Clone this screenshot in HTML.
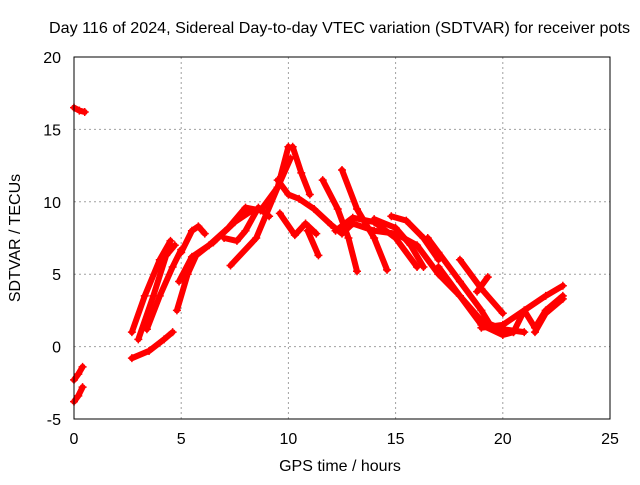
<!DOCTYPE html>
<html><head><meta charset="utf-8"><style>
body{margin:0;background:#fff}
svg text{font-family:"Liberation Sans",sans-serif;font-size:16px;fill:#000}
</style></head><body>
<svg id="chart" width="640" height="480" xmlns="http://www.w3.org/2000/svg">
<rect width="640" height="480" fill="#fff"/>
<text x="49" y="33" textLength="581" lengthAdjust="spacingAndGlyphs">Day 116 of 2024, Sidereal Day-to-day VTEC variation (SDTVAR) for receiver pots</text>
<g id="grid"></g>
<g id="ticks"></g>
<g id="series"></g>
<rect x="74" y="57" width="536" height="362" fill="none" stroke="#000" stroke-width="1"/>
<text x="340" y="471" text-anchor="middle">GPS time / hours</text>
<text transform="translate(20,238) rotate(-90)" text-anchor="middle">SDTVAR / TECUs</text>
</svg>
<script>
const xTicks=[0,5,10,15,20,25];
const yTicks=[-5,0,5,10,15,20];
const tracks=[
[[0,16.5],[0.25,16.3],[0.5,16.2]],
[[0,-2.3],[0.2,-1.9],[0.4,-1.4]],
[[0,-3.8],[0.2,-3.4],[0.4,-2.8]],
[[2.7,1.0],[3.3,3.5],[4.0,6.0],[4.5,7.3]],
[[3.0,0.5],[3.7,3.5],[4.3,6.3],[4.7,7.0]],
[[2.7,-0.8],[3.5,-0.3],[4.2,0.5],[4.6,1.0]],
[[3.4,1.2],[4.0,3.5],[4.6,5.5],[5.0,6.7]],
[[4.8,2.5],[5.3,5.0],[5.7,6.3],[6.3,7.0],[7.2,8.2],[8.0,9.6],[8.7,9.4],[9.5,11.0],[10.0,13.8]],
[[4.9,4.5],[5.5,6.2],[6.5,7.2],[7.5,8.6],[8.3,9.4]],
[[5.0,6.5],[5.5,8.0],[5.8,8.3],[6.1,7.8]],
[[7.3,5.6],[8.5,7.5],[9.5,11.0],[10.1,13.0]],
[[7.0,7.5],[7.6,7.3],[8.0,8.0],[8.6,9.6],[9.1,9.0]],
[[9.5,11.5],[10.0,10.5],[10.5,10.2],[11.2,9.5],[12.0,8.4],[12.5,7.8],[13.0,8.5],[14.0,8.0],[15.0,7.8],[16.0,7.0],[17.0,5.0],[18.0,3.5],[19.0,1.8],[20.0,1.2],[21.0,1.0]],
[[10.2,13.8],[10.6,12.0],[11.0,10.5]],
[[9.6,9.2],[10.3,7.7],[10.8,8.5],[11.3,7.8]],
[[10.9,8.0],[11.4,6.3]],
[[11.6,11.5],[12.3,9.5],[12.8,7.5],[13.2,5.2]],
[[12.5,12.2],[13.2,9.5],[14.0,7.5],[14.6,5.3]],
[[12.2,8.0],[13.0,8.9],[14.0,8.6],[15.0,7.5],[16.0,5.5]],
[[14.0,8.8],[15.0,8.2],[15.7,7.0],[16.3,5.5]],
[[14.8,9.0],[15.5,8.7],[16.3,7.5],[17.0,6.0]],
[[16.5,7.5],[17.0,6.5],[18.0,4.5],[19.0,2.5],[19.5,1.3]],
[[17.0,5.5],[18.0,3.5],[19.0,1.5],[20.0,0.8],[20.5,1.0]],
[[18.0,6.0],[19.0,4.0],[20.0,2.3]],
[[18.8,3.8],[19.3,4.8]],
[[19.0,1.3],[20.0,1.5],[21.0,2.5],[22.0,3.5],[22.8,4.2]],
[[20.5,1.0],[21.0,2.5],[21.5,1.3],[22.0,2.5],[22.8,3.5]],
[[21.5,1.0],[22.0,2.3],[22.8,3.3]]
];
const NS='http://www.w3.org/2000/svg';
const X0=74,X1=610,Y0=419,Y1=57;
const xs=t=>X0+(t-0)/(25-0)*(X1-X0);
const ys=v=>Y0-(v+5)/(25)*(Y0-Y1);
const grid=document.getElementById('grid'),ticks=document.getElementById('ticks'),series=document.getElementById('series');
function mk(tag,attrs,parent){const e=document.createElementNS(NS,tag);for(const k in attrs)e.setAttribute(k,attrs[k]);parent.appendChild(e);return e;}
xTicks.forEach(t=>{
 const x=xs(t);
 if(t>0&&t<25){const g=mk('line',{x1:x,x2:x,y1:Y1,y2:Y0,stroke:'#a0a0a0','stroke-dasharray':'2,3'},grid);
 
 }
 const l=mk('text',{x:x,y:444,'text-anchor':'middle'},ticks);l.textContent=t;
 
 
});
yTicks.forEach(v=>{
 const y=ys(v);
 if(v>-5&&v<20){const g=mk('line',{x1:X0,x2:X1,y1:y,y2:y,stroke:'#a0a0a0','stroke-dasharray':'2,3'},grid);
 
 }
 const l=mk('text',{x:61,y:y+6,'text-anchor':'end'},ticks);l.textContent=v;
 
 
});
tracks.forEach(tr=>{
 const p=mk('polyline',{points:tr.map(d=>xs(d[0])+','+ys(d[1])).join(' '),fill:'none',stroke:'#ff0000','stroke-width':6,'stroke-linejoin':'round','stroke-linecap':'round'},series);
 
 
 tr.forEach(d=>{
  const x=xs(d[0]),y=ys(d[1]);
  const m=mk('path',{d:`M${x-4},${y}H${x+4}M${x},${y-4}V${y+4}`,stroke:'#ff0000','stroke-width':1.5},series);
  
  
 });
});
</script>
</body></html>
